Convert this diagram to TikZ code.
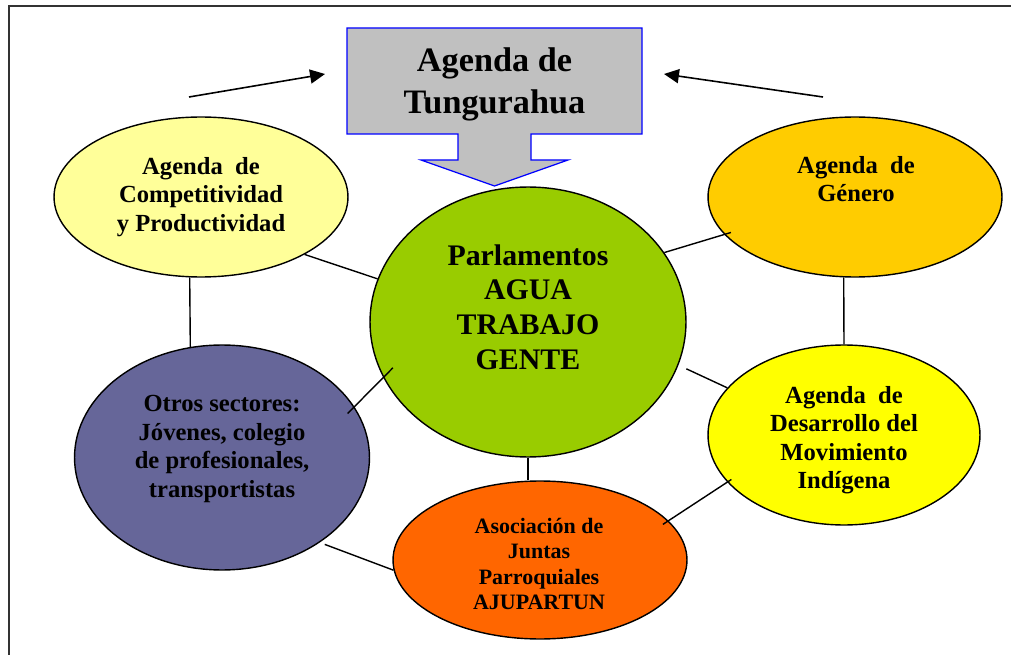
\documentclass[tikz,border=0pt]{standalone}
\usepackage{fontspec}
\setmainfont{Liberation Serif}
\usetikzlibrary{arrows.meta,shapes.geometric}
\definecolor{amarilloclaro}{HTML}{FFFF99}
\definecolor{oro}{HTML}{FFCC00}
\definecolor{verde}{HTML}{99CC00}
\definecolor{amarillo}{HTML}{FFFF00}
\definecolor{violeta}{HTML}{666699}
\definecolor{naranja}{HTML}{FF6600}
\definecolor{gris}{HTML}{C0C0C0}
\begin{document}
\begin{tikzpicture}[x=0.02cm,y=-0.02cm,
  burbuja/.style={ellipse,draw,line width=0.8pt,inner sep=0pt},
  texto/.style={align=center,font=\bfseries\fontsize{14}{16.2}\selectfont},
  enlace/.style={line width=0.8pt},
  flecha/.style={-{Triangle[length=8.5pt,width=8pt]},line width=0.9pt}]
  \useasboundingbox (0,0) rectangle (1011,655);
  \draw[line width=0.7pt,black!80] (9,655) -- (9,6) -- (1011,6);
  \filldraw[fill=gris,draw=blue,line width=0.7pt] (347,28) -- (642,28) -- (642,134) -- (531,134)
    -- (531,160) -- (568,160) -- (494.5,186) -- (421,160) -- (458,160) -- (458,134) -- (347,134) -- cycle;
  \node[align=center,font=\bfseries\fontsize{19.5}{23.8}\selectfont] (tung) at (494.5,84) {Agenda de\\Tungurahua};
  \coordinate (izqini) at (189,97);
  \coordinate (izqfin) at (325,74);
  \coordinate (derini) at (823,97);
  \coordinate (derfin) at (664,74);
  \draw[flecha] (izqini) -- (izqfin);
  \draw[flecha] (derini) -- (derfin);
  \node[burbuja,fill=amarilloclaro,minimum width=5.88cm,minimum height=3.2cm] (compet) at (201,197) {};
  \node[burbuja,fill=oro,minimum width=5.88cm,minimum height=3.2cm] (genero) at (855,197) {};
  \node[burbuja,fill=verde,minimum width=6.32cm,minimum height=5.4cm] (parla) at (528,322) {};
  \node[burbuja,fill=amarillo,minimum width=5.44cm,minimum height=3.6cm] (indig) at (844,435) {};
  \node[burbuja,fill=violeta,minimum width=5.9cm,minimum height=4.5cm] (otros) at (222,457.5) {};
  \node[burbuja,fill=naranja,minimum width=5.88cm,minimum height=3.16cm] (juntas) at (540,560) {};
  \node[texto] (competxt) at (201,197) {Agenda\ \ de\\Competitividad\\y Productividad};
  \node[texto] (generotxt) at (856,179) {Agenda\ \ de\\Género};
  \node[texto,font=\bfseries\fontsize{17}{19.8}\selectfont] (parlatxt) at (528,307) {Parlamentos\\AGUA\\TRABAJO\\GENTE};
  \node[texto] (indigtxt) at (844,440) {Agenda\ \ de\\Desarrollo del\\Movimiento\\Indígena};
  \node[texto] (otrostxt) at (222,449) {Otros sectores:\\Jóvenes, colegio\\de profesionales,\\transportistas};
  \node[texto,font=\bfseries\fontsize{12.5}{14.5}\selectfont] (juntastxt) at (539,564) {Asociación de\\Juntas\\Parroquiales\\AJUPARTUN};
  \draw[enlace] (compet.331) -- (parla.164);
  \draw[enlace] (compet.262) -- (otros.106);
  \draw[enlace,shorten <=-7.8pt,shorten >=-5.5pt] (parla.201) -- (otros.21);
  \draw[enlace,shorten >=-4pt] (parla.27) -- (genero.196);
  \draw[enlace] (genero.262) -- (indig.north);
  \draw[enlace,shorten <=5pt] (parla.344) -- (indig.158);
  \draw[enlace] (parla.south) -- (parla.south |- juntas.north);
  \draw[enlace,shorten <=3pt] (otros.319) -- (juntas.184);
  \draw[enlace,shorten <=-3.8pt,shorten >=-2.8pt] (juntas.17) -- (indig.202.5);
\end{tikzpicture}
\end{document}
